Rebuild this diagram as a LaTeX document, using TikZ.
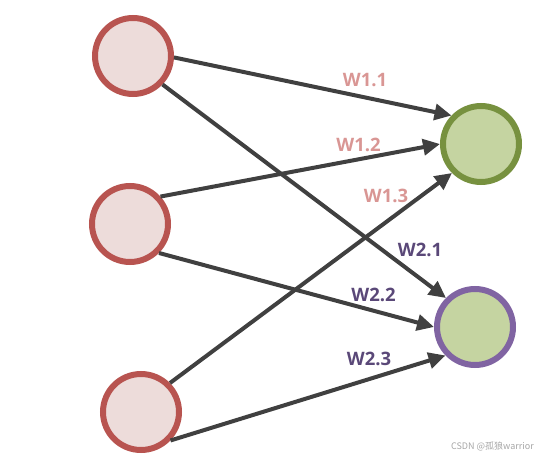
\documentclass[tikz,border=0pt]{standalone}
\usepackage{fontspec}
\setmainfont{Open Sans}
\newfontfamily\cjk{Noto Sans CJK SC}
\usetikzlibrary{arrows.meta}
\definecolor{inred}{HTML}{B85450}
\definecolor{infill}{HTML}{EDDCDA}
\definecolor{outfill}{HTML}{C5D4A1}
\definecolor{outgreen}{HTML}{77913F}
\definecolor{outpurple}{HTML}{8064A2}
\definecolor{edgegray}{HTML}{404040}
\definecolor{wred}{HTML}{D99694}
\definecolor{wpurple}{HTML}{5A4878}
\tikzset{
  neuron/.style={circle, minimum size=76pt, inner sep=0pt, line width=6pt},
  inneuron/.style={neuron, draw=inred, fill=infill},
  outgreenneuron/.style={neuron, draw=outgreen, fill=outfill},
  outpurpleneuron/.style={neuron, draw=outpurple, fill=outfill},
  conn/.style={draw=edgegray, line width=4pt, -{Triangle[length=17pt,width=16pt]}},
  wlabel/.style={font=\bfseries\fontsize{18.5}{18.5}\selectfont, inner sep=0pt},
  wone/.style={wlabel, text=wred},
  wtwo/.style={wlabel, text=wpurple}
}
\begin{document}
\begin{tikzpicture}[x=1pt,y=-1pt]
\useasboundingbox (0,0) rectangle (538,457);
\node[inneuron] (i1) at (133,56) {};
\node[inneuron] (i2) at (130,224) {};
\node[inneuron] (i3) at (141,412) {};
\node[outgreenneuron] (o1) at (481,144) {};
\node[outpurpleneuron] (o2) at (475,327) {};
\draw[conn] (i1.-2) -- (o1.136);
\draw[conn] (i1.-44) -- (o2.135);
\draw[conn] (i2.42) -- (o1.180);
\draw[conn] (i2.-45) -- (o2.180);
\draw[conn] (i3.45) -- (o1.225);
\draw[conn] (i3.-44) -- (o2.224);
\node[wone] (w11) at (365,80) {W1.1};
\node[wone] (w12) at (358.5,145) {W1.2};
\node[wone] (w13) at (386,196) {W1.3};
\node[wtwo] (w21) at (420,250) {W2.1};
\node[wtwo] (w22) at (373.5,294.5) {W2.2};
\node[wtwo] (w23) at (369,359) {W2.3};
\node[text=black!35, font=\cjk\fontsize{9}{9}\selectfont, inner sep=0pt, anchor=east] (wm) at (534,446) {CSDN @孤狼warrior};
\end{tikzpicture}
\end{document}
